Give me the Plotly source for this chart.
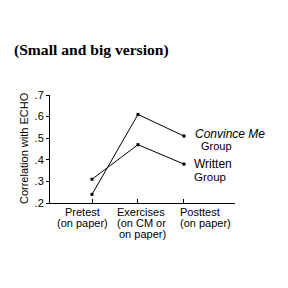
import plotly.graph_objects as go

categories = ["Pretest<br>(on paper)", "Exercises<br>(on CM or<br> on paper)", "Posttest<br>(on paper)"]
convince_me = [0.24, 0.61, 0.51]
written = [0.31, 0.47, 0.38]
y_ticks = [0.2, 0.3, 0.4, 0.5, 0.6, 0.7]
y_labels = [".2", ".3", ".4", ".5", ".6", ".7"]

xpos = list(range(len(categories)))
sans = "Liberation Sans, Arial, sans-serif"

fig = go.Figure()
for vals in (convince_me, written):
    fig.add_trace(go.Scatter(
        x=xpos, y=vals, mode="lines+markers",
        line=dict(color="black", width=1),
        marker=dict(symbol="square", size=3, color="black"),
        showlegend=False, cliponaxis=False,
    ))

# page body has an 8px margin, so figure coordinates are shifted by -8
fig.update_layout(
    width=280, height=280,
    margin=dict(l=42, r=53, t=87, b=85, autoexpand=False),
    paper_bgcolor="white", plot_bgcolor="white",
    font=dict(family=sans, size=11, color="black"),
    title=dict(text="<b>(Small and big version)</b>", x=6/280, y=1-42/280,
               xanchor="left", yanchor="middle", xref="container", yref="container",
               font=dict(family="Liberation Serif, Times New Roman, serif", size=15.6, color="black")),
    xaxis=dict(range=[-0.913, 3.109], tickvals=xpos, showticklabels=False, automargin=False,
               showline=True, linecolor="black", linewidth=1, ticks="inside", ticklen=4,
               tickcolor="black", showgrid=False, zeroline=False),
    yaxis=dict(range=[0.2, 0.7], tickvals=y_ticks, ticktext=y_labels, automargin=False,
               showline=True, linecolor="black", linewidth=1, ticks="outside", ticklen=3,
               tickcolor="black", showgrid=False, zeroline=False, tickfont=dict(size=11)),
)

# category labels, one annotation per line (left edges relative to each category)
line_left_offsets = [[-0.63, -0.80], [-0.50, -0.50, -0.457], [-0.13, -0.13]]
for i, (cat, offs) in enumerate(zip(categories, line_left_offsets)):
    for k, (line, off) in enumerate(zip(cat.split("<br>"), offs)):
        fig.add_annotation(text=line.strip(), xref="x", yref="paper", x=xpos[i] + off, y=0,
                           xanchor="left", yanchor="middle", yshift=-9 - 11 * k,
                           showarrow=False, font=dict(size=11))

fig.add_annotation(text="Correlation with ECHO", xref="paper", yref="paper",
                   x=-0.1405, y=0.509, textangle=-90, showarrow=False,
                   xanchor="center", yanchor="middle", font=dict(size=11))
fig.add_annotation(text="<i>Convince Me</i>", xref="x", yref="y", x=2.196, y=0.519,
                   xanchor="left", yanchor="middle", showarrow=False, font=dict(size=12))
fig.add_annotation(text="Group", xref="x", yref="y", x=2.326, y=0.464,
                   xanchor="left", yanchor="middle", showarrow=False, font=dict(size=11))
fig.add_annotation(text="Written", xref="x", yref="y", x=2.17, y=0.382,
                   xanchor="left", yanchor="middle", showarrow=False, font=dict(size=12))
fig.add_annotation(text="Group", xref="x", yref="y", x=2.17, y=0.322,
                   xanchor="left", yanchor="middle", showarrow=False, font=dict(size=11.5))

fig.write_html("out.html")
